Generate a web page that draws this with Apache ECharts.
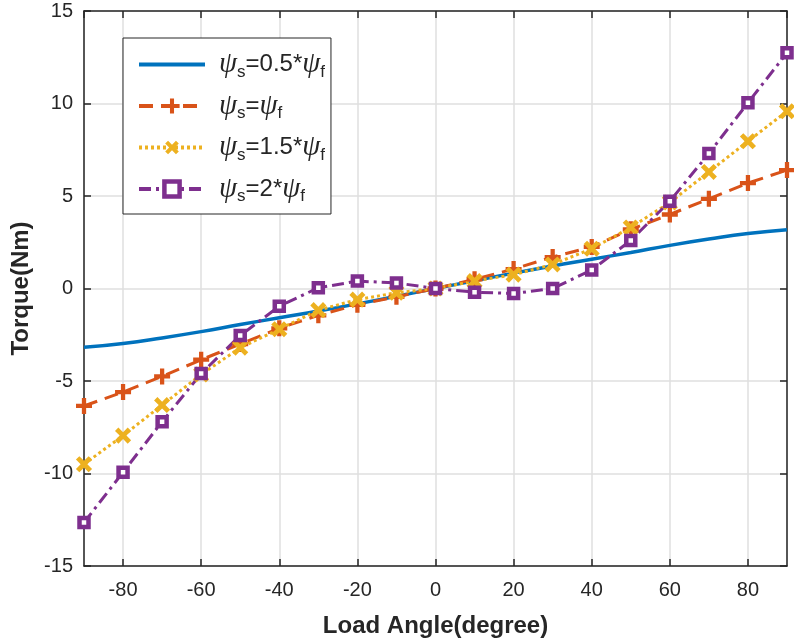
<!DOCTYPE html>
<html><head><meta charset="utf-8">
<script src="https://cdn.jsdelivr.net/npm/echarts@6/dist/echarts.min.js"></script>
<style>html,body{margin:0;padding:0;background:#fff}#c{width:794px;height:639px}</style>
</head><body><div id="c"></div>
<script>
const angles = [-90,-80,-70,-60,-50,-40,-30,-20,-10,0,10,20,30,40,50,60,70,80,90];
const s05 = [-3.18,-2.97,-2.67,-2.33,-1.95,-1.58,-1.22,-0.83,-0.42,0,0.42,0.83,1.22,1.58,1.95,2.33,2.67,2.97,3.18];
const s10 = [-6.35,-5.6,-4.75,-3.85,-3.0,-2.15,-1.45,-0.88,-0.45,0,0.5,1.05,1.7,2.25,3.2,4.0,4.85,5.7,6.4];
const s15 = [-9.5,-7.95,-6.3,-4.65,-3.2,-2.2,-1.17,-0.6,-0.23,0,0.4,0.75,1.3,2.15,3.3,4.65,6.3,7.96,9.58];
const s20 = [-12.65,-9.93,-7.2,-4.6,-2.54,-0.96,0.04,0.4,0.3,0,-0.2,-0.27,0,1.0,2.6,4.72,7.3,10.04,12.74];
const names = ['s05','s10','s15','s20'];
const labels = {
  s05: '{p|ψ}{sub|s}{t|=0.5*}{p|ψ}{sub|f}',
  s10: '{p|ψ}{sub|s}{t|=}{p|ψ}{sub|f}',
  s15: '{p|ψ}{sub|s}{t|=1.5*}{p|ψ}{sub|f}',
  s20: '{p|ψ}{sub|s}{t|=2*}{p|ψ}{sub|f}'
};
const colors = ['#0072BD','#D95319','#EDB120','#7E2F8E'];
const plusPath = 'path://M-1.6,-6H1.6V-1.6H6V1.6H1.6V6H-1.6V1.6H-6V-1.6H-1.6Z';
function pairs(arr){ return angles.map((a,i)=>[a,arr[i]]); }

const chart = echarts.init(document.getElementById('c'));
const axisTxt = {fontFamily:'Liberation Sans', fontSize:20, color:'#262626'};
const frameLine = {show:true, onZero:false, lineStyle:{color:'#262626', width:1.5}};
const tickIn = {show:true, inside:true, length:7, lineStyle:{color:'#262626', width:1.5}};
const nameTxt = {fontFamily:'Liberation Sans', fontWeight:'bold', fontSize:24, color:'#262626'};
chart.setOption({
  animation:false,
  backgroundColor:'#fff',
  grid:{left:84, right:7, top:11, bottom:73, containLabel:false, outerBoundsMode:'none'},
  xAxis:[{
    type:'value', min:-90, max:90, splitNumber:9,
    axisLine:frameLine, axisTick:tickIn,
    axisLabel:Object.assign({margin:14, showMinLabel:false, showMaxLabel:false}, axisTxt),
    splitLine:{show:true, lineStyle:{color:'#dfdfdf', width:1.5}},
    name:'Load Angle(degree)', nameLocation:'middle', nameGap:48, nameTextStyle:nameTxt
  },{
    type:'value', min:-90, max:90, splitNumber:9, position:'top',
    axisLine:frameLine, axisTick:tickIn, axisLabel:{show:false}, splitLine:{show:false}
  }],
  yAxis:[{
    type:'value', min:-15, max:15, interval:5,
    axisLine:frameLine, axisTick:tickIn,
    axisLabel:Object.assign({margin:11}, axisTxt),
    splitLine:{show:true, lineStyle:{color:'#dfdfdf', width:1.5}},
    name:'Torque(Nm)', nameLocation:'middle', nameGap:44, nameTextStyle:nameTxt
  },{
    type:'value', min:-15, max:15, interval:5, position:'right',
    axisLine:frameLine, axisTick:tickIn, axisLabel:{show:false}, splitLine:{show:false}
  }],
  legend:{
    orient:'vertical', left:123, top:38,
    backgroundColor:'#fff', borderColor:'#262626', borderWidth:1,
    padding:[12,6,9,14],
    itemWidth:66, itemHeight:19, itemGap:11,
    lineStyle:{width:4},
    data:[{name:'s05', itemStyle:{opacity:0}}, 's10', 's15', {name:'s20', itemStyle:{borderWidth:4.5}}],
    formatter:(n)=>labels[n],
    textStyle:{
      padding:[0,0,0,9],
      rich:{
        p:{fontFamily:'Liberation Serif', fontStyle:'italic', fontSize:29, color:'#262626'},
        sub:{fontFamily:'Liberation Sans', fontSize:17, color:'#262626', padding:[15,0,0,0]},
        t:{fontFamily:'Liberation Sans', fontSize:24, color:'#262626'}
      }
    }
  },
  series:[
    {name:'s05', type:'line', data:pairs(s05), smooth:true, showSymbol:false, symbol:'none',
     lineStyle:{color:colors[0], width:3.5}, itemStyle:{color:colors[0]}},
    {name:'s10', type:'line', data:pairs(s10), symbol:plusPath, symbolSize:16,
     lineStyle:{color:colors[1], width:3, type:[14,8]}, itemStyle:{color:colors[1]}},
    {name:'s15', type:'line', data:pairs(s15), symbol:plusPath, symbolSize:18, symbolRotate:45,
     lineStyle:{color:colors[2], width:3, type:[3,3]}, itemStyle:{color:colors[2]}},
    {name:'s20', type:'line', data:pairs(s20), symbol:'rect', symbolSize:9,
     lineStyle:{color:colors[3], width:3, type:[12,5,3,5]},
     itemStyle:{color:'#ffffff', borderColor:colors[3], borderWidth:4.5}}
  ]
});
</script></body></html>
